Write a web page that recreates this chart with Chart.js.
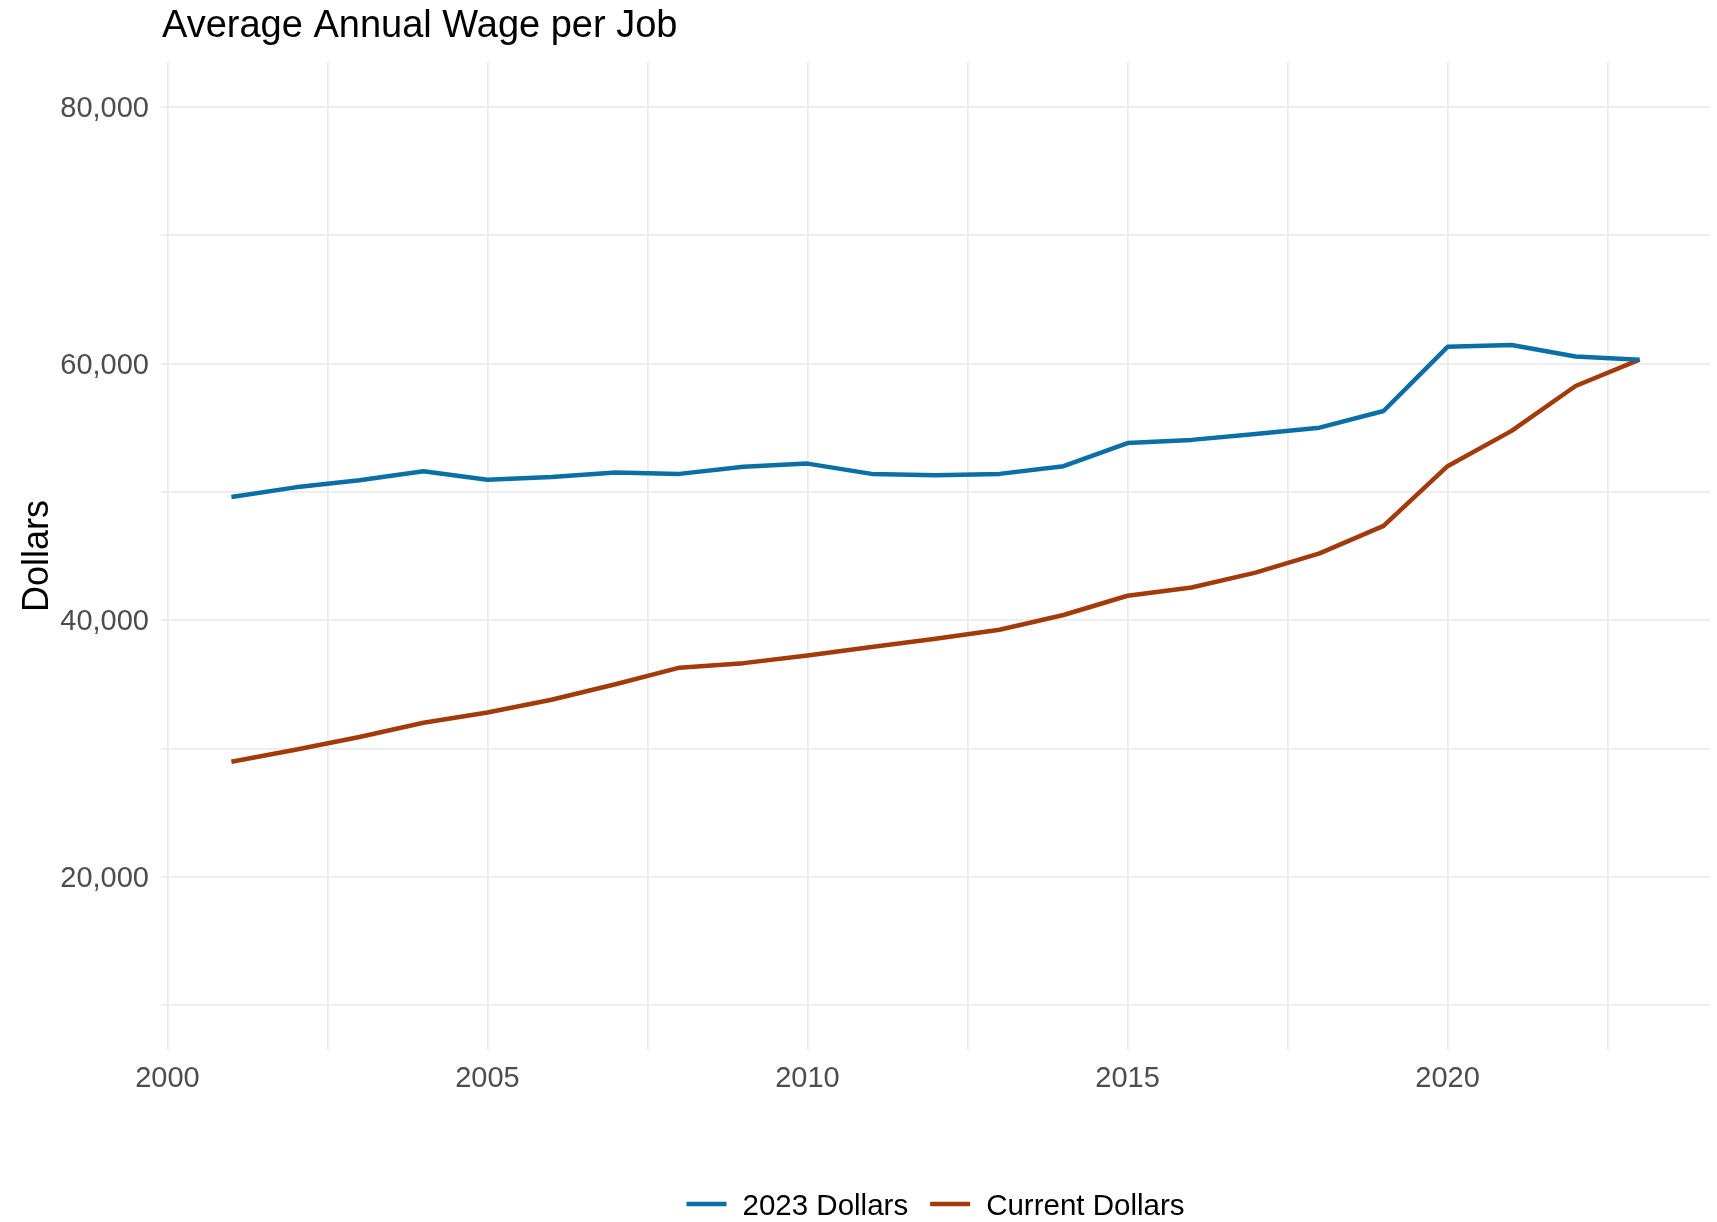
<!DOCTYPE html>
<html>
<head>
<meta charset="utf-8">
<title>Average Annual Wage per Job</title>
<script src="https://cdn.jsdelivr.net/npm/chart.js@4/dist/chart.umd.min.js"></script>
<style>
  html, body { margin: 0; padding: 0; background: #ffffff; }
  #wrap { width: 1717px; height: 1222px; position: relative; }
</style>
</head>
<body>
<div id="wrap"><canvas id="wageChart"></canvas></div>
<script>
// ---- data ----
const chartTitle = 'Average Annual Wage per Job';
const yAxisTitle = 'Dollars';
const seriesNames = ['2023 Dollars', 'Current Dollars'];
const years = [2001, 2002, 2003, 2004, 2005, 2006, 2007, 2008, 2009, 2010, 2011, 2012,
               2013, 2014, 2015, 2016, 2017, 2018, 2019, 2020, 2021, 2022, 2023];
const wage2023Dollars = [49600, 50350, 50900, 51600, 50950, 51150, 51500, 51400, 51950, 52200, 51400, 51300,
                         51400, 52000, 53800, 54050, 54500, 55000, 56300, 61300, 61450, 60550, 60300];
const wageCurrentDollars = [28970, 29900, 30900, 32000, 32800, 33800, 35000, 36300, 36650, 37250, 37900, 38550,
                            39250, 40400, 41900, 42550, 43700, 45200, 47350, 52000, 54750, 58250, 60300];
const xLabelTicks = [2000, 2005, 2010, 2015, 2020];
const xMinorTicks = [2002.5, 2007.5, 2012.5, 2017.5, 2022.5];
const yLabelTicks = [20000, 40000, 60000, 80000];
const yMinorTicks = [10000, 30000, 50000, 70000];
const seriesColors = ['#0A6FA5', '#A23A0A'];

// ---- styling ----
const FONT = '"Liberation Sans", Arial, Helvetica, sans-serif';
const GRID = '#EBEBEB';

const toPoints = (vals) => years.map((yr, i) => ({ x: yr, y: vals[i] }));
const sortedTicks = (a, b) => a.concat(b).sort((p, q) => p - q).map(v => ({ value: v }));

// Title drawn flush with the left edge of the panel
const panelTitle = {
  id: 'panelTitle',
  afterDraw(chart) {
    const ctx = chart.ctx;
    ctx.save();
    ctx.font = `38px ${FONT}`;
    ctx.fillStyle = '#000000';
    ctx.textAlign = 'left';
    ctx.textBaseline = 'alphabetic';
    ctx.fillText(chartTitle, chart.chartArea.left + 1, 37);
    ctx.restore();
  }
};

// Horizontal legend centred under the panel, line keys
const panelLegend = {
  id: 'panelLegend',
  afterDraw(chart) {
    const ctx = chart.ctx;
    const { left, right } = chart.chartArea;
    const keyW = 40, textGap = 16, itemGap = 22, y = 1207;
    ctx.save();
    ctx.font = `29.5px ${FONT}`;
    const items = chart.data.datasets.map(ds => ({
      label: ds.label,
      color: ds.borderColor,
      w: keyW + textGap + ctx.measureText(ds.label).width
    }));
    const total = items.reduce((s, it) => s + it.w, 0) + itemGap * (items.length - 1);
    let x = (left + right) / 2 - total / 2;
    items.forEach(it => {
      ctx.strokeStyle = it.color;
      ctx.lineWidth = 4.5;
      ctx.lineCap = 'butt';
      ctx.beginPath();
      ctx.moveTo(x, y - 3);
      ctx.lineTo(x + keyW, y - 3);
      ctx.stroke();
      ctx.fillStyle = '#000000';
      ctx.textAlign = 'left';
      ctx.textBaseline = 'middle';
      ctx.fillText(it.label, x + keyW + textGap, y);
      x += it.w + itemGap;
    });
    ctx.restore();
  }
};

new Chart(document.getElementById('wageChart'), {
  type: 'line',
  data: {
    datasets: [
      { label: seriesNames[0], data: toPoints(wage2023Dollars), borderColor: seriesColors[0], backgroundColor: seriesColors[0] },
      { label: seriesNames[1], data: toPoints(wageCurrentDollars), borderColor: seriesColors[1], backgroundColor: seriesColors[1] }
    ]
  },
  options: {
    responsive: true,
    maintainAspectRatio: false,
    animation: false,
    layout: { padding: { top: 62, right: 7, bottom: 112, left: 0 } },
    elements: {
      line: { borderWidth: 4.5, tension: 0, borderJoinStyle: 'round', borderCapStyle: 'butt', fill: false },
      point: { radius: 0, hoverRadius: 0 }
    },
    plugins: {
      legend: { display: false },
      title: { display: false },
      tooltip: { enabled: false }
    },
    scales: {
      x: {
        type: 'linear',
        min: 1999.9,
        max: 2024.1,
        bounds: 'data',
        afterBuildTicks: (scale) => { scale.ticks = sortedTicks(xLabelTicks, xMinorTicks); },
        afterFit: (scale) => { scale.height = 60; },
        grid: { color: GRID, lineWidth: 1.8, drawTicks: false },
        border: { display: false },
        ticks: {
          autoSkip: false,
          maxRotation: 0,
          padding: 12,
          color: '#4D4D4D',
          font: { family: FONT, size: 29 },
          callback: (v) => xLabelTicks.includes(v) ? String(v) : ''
        }
      },
      y: {
        type: 'linear',
        min: 6500,
        max: 83500,
        bounds: 'data',
        afterBuildTicks: (scale) => { scale.ticks = sortedTicks(yLabelTicks, yMinorTicks); },
        afterFit: (scale) => { scale.width = 161; },
        grid: { color: GRID, lineWidth: 1.8, drawTicks: false },
        border: { display: false },
        title: {
          display: true,
          text: yAxisTitle,
          color: '#000000',
          font: { family: FONT, size: 36 },
          padding: { top: 16, bottom: 0 }
        },
        ticks: {
          autoSkip: false,
          padding: 12,
          labelOffset: 2,
          color: '#4D4D4D',
          font: { family: FONT, size: 29 },
          callback: (v) => yLabelTicks.includes(v) ? v.toLocaleString('en-US') : ''
        }
      }
    }
  },
  plugins: [panelTitle, panelLegend]
});
</script>
</body>
</html>
